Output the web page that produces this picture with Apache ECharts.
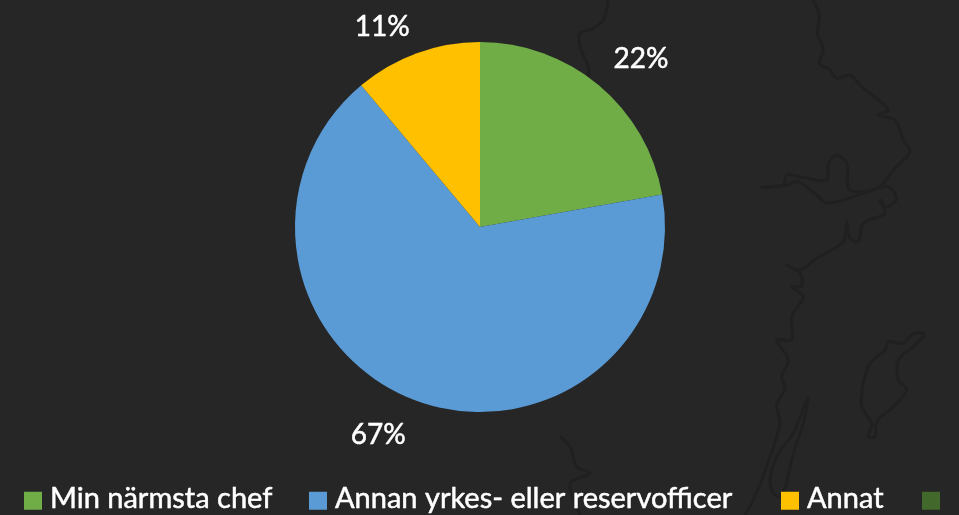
<!DOCTYPE html>
<html><head><meta charset="utf-8">
<style>html,body{margin:0;padding:0;background:#262626}#c{width:959px;height:515px}</style>
<script src="https://cdn.jsdelivr.net/npm/echarts@6/dist/echarts.min.js"></script>
</head><body><div id="c"></div>
<script>
const categories = ['Min närmsta chef', 'Annan yrkes- eller reservofficer', 'Annat', ' '];
const values = [22.2, 66.7, 11.1, 0];
const colors = ['#70AD47', '#5B9BD5', '#FFC000', '#43682B'];
const legendLeft = [24, 309, 781, 922];
const labelShift = [[-30, -15], [29, 20], [33, -12], [0, 0]];
const FONT = 'Lato,Roboto,sans-serif';

// Faint decorative map outline behind the chart (traced in a 3x crop whose left edge is x=560)
const coast = [[760,0],[778,50],[772,100],[790,150],[778,190],[810,210],[830,235],[870,225],[905,260],[950,295],[985,330],[955,345],[1005,360],[1030,420],[1050,455],[1000,510],[960,560],[900,575],[865,565],[860,490],[830,465],[805,490],[800,540],[720,530],[680,525],[670,555],[605,562],[680,555],[715,545],[770,585],[800,610],[880,590],[940,570],[985,560],[1010,595],[980,620],[960,600],[975,640],[910,670],[895,725],[870,715],[860,665],[850,725],[770,775],[720,810],[680,795],[720,820],[725,860],[695,860],[730,890],[695,950],[695,1020],[650,1020],[685,1080],[665,1130],[675,1165],[650,1215],[660,1270],[620,1400],[580,1500],[555,1545]];
const gotland = [[1095,1000],[1060,1000],[1030,1030],[985,1025],[975,1050],[930,1090],[910,1150],[905,1220],[935,1270],[925,1310],[945,1310],[950,1265],[1000,1220],[1040,1170],[1015,1140],[1015,1080],[1060,1040],[1095,1005]];
const oland = [[745,1190],[725,1240],[700,1300],[650,1370],[630,1450],[650,1490],[670,1480],[700,1360],[730,1270],[745,1190]];
const inland = [[145,0],[130,60],[100,85],[60,100],[60,140],[85,200],[85,230]];
const south = [[0,1310],[30,1340],[50,1400],[90,1420],[30,1450],[60,1545]];
const outlines = [coast, gotland, oland, inland, south];

const chart = echarts.init(document.getElementById('c'), null, {renderer: 'canvas'});
chart.setOption({
  backgroundColor: '#262626',
  animation: false,
  graphic: outlines.map(p => ({
    type: 'polyline', silent: true, z: 0,
    shape: {points: p.map(([x, y]) => [560 + x / 3, y / 3]), smooth: 0.3},
    style: {stroke: '#202020', lineWidth: 3, fill: null}
  })),
  legend: categories.map((n, i) => ({
    data: [n], left: legendLeft[i], top: 484, itemWidth: 18, itemHeight: 18,
    icon: 'rect', selectedMode: false, padding: 0, itemGap: 0,
    formatter: name => '{t|' + name + '}',
    textStyle: {
      color: '#fff', fontFamily: FONT, fontSize: 29,
      rich: {t: {color: '#fff', fontFamily: FONT, fontSize: 29, lineHeight: 30, padding: [0, 0, 4, 3], textBorderColor: '#fff', textBorderWidth: 0.5}}
    }
  })),
  series: [{
    type: 'pie', center: [480, 227], radius: [0, 185], startAngle: 90, clockwise: true,
    percentPrecision: 0, stillShowZeroSum: false, avoidLabelOverlap: false,
    data: categories.map((n, i) => ({
      name: n, value: values[i],
      itemStyle: {color: colors[i]},
      label: {show: values[i] > 0},
      labelLine: {show: false}
    })),
    label: {position: 'outside', formatter: '{d}%', color: '#fff', fontFamily: FONT, fontSize: 28, textBorderColor: '#fff', textBorderWidth: 0.5},
    labelLine: {show: false},
    labelLayout: p => ({dx: labelShift[p.dataIndex][0], dy: labelShift[p.dataIndex][1]})
  }]
});
</script></body></html>
